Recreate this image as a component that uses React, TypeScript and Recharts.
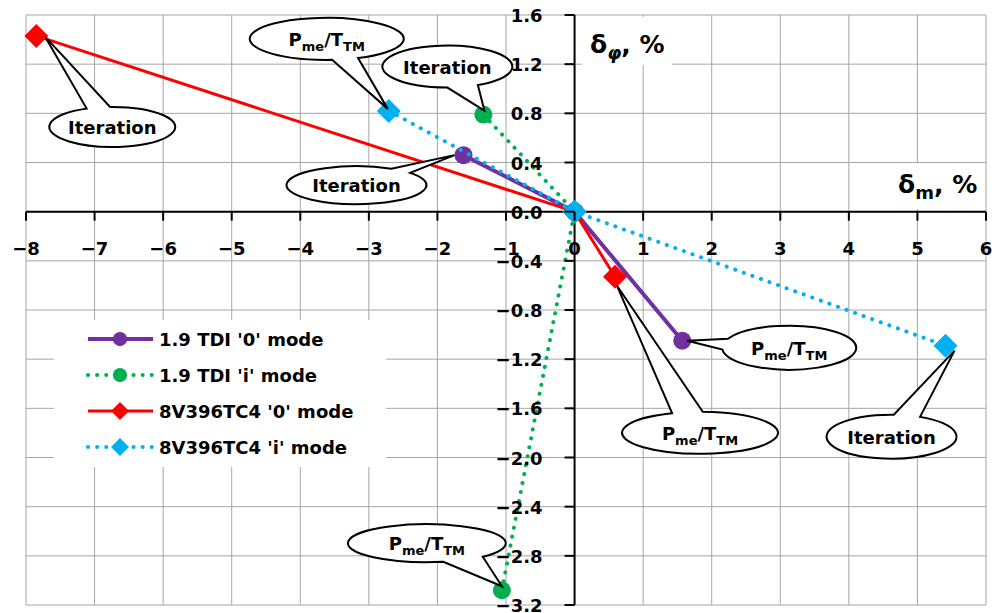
import { ScatterChart, Scatter, XAxis, YAxis, CartesianGrid, ReferenceLine, ReferenceDot, Legend } from 'recharts';

// 1.9 TDI '0' mode
const tdi0X = [-1.62, 0, 1.57];
const tdi0Y = [0.46, 0, -1.05];
// 1.9 TDI 'i' mode
const tdiIX = [-1.33, 0, -1.06];
const tdiIY = [0.79, 0, -3.08];
// 8V396TC4 '0' mode
const v0X = [-7.85, 0, 0.59];
const v0Y = [1.43, 0, -0.53];
// 8V396TC4 'i' mode
const vIX = [-2.71, 0, 5.41];
const vIY = [0.82, 0, -1.09];

const xTicks = [-8, -7, -6, -5, -4, -3, -2, -1, 0, 1, 2, 3, 4, 5, 6];
const yTicks = [1.6, 1.2, 0.8, 0.4, 0, -0.4, -0.8, -1.2, -1.6, -2.0, -2.4, -2.8, -3.2];

const seriesNames = ["1.9 TDI '0' mode", "1.9 TDI 'i' mode", "8V396TC4 '0' mode", "8V396TC4 'i' mode"];

// callouts: which series / which point, and the text
const calloutSeries = [2, 3, 1, 0, 0, 2, 3, 1];
const calloutPoint = [0, 0, 0, 0, 2, 2, 2, 2];
const calloutText = ['Iteration', 'P', 'Iteration', 'Iteration', 'P', 'P', 'Iteration', 'P'];

const toPoints = (xs: number[], ys: number[]) => xs.map((x, i) => ({ x, y: ys[i] }));
const seriesData = [toPoints(tdi0X, tdi0Y), toPoints(tdiIX, tdiIY), toPoints(v0X, v0Y), toPoints(vIX, vIY)];

// styles
const FONT = '"DejaVu Sans", sans-serif';
const W = 998;
const H = 613;
const M = { top: 15, right: 12, bottom: 7, left: 25 };
const X_DOM = [-8, 6];
const Y_DOM = [-3.2, 1.6];
const PL = M.left + 1;
const PB = M.bottom + 1;
const OX = PL + ((W - PL - M.right) * (0 - X_DOM[0])) / (X_DOM[1] - X_DOM[0]);
const OY = M.top + ((H - M.top - PB) * (Y_DOM[1] - 0)) / (Y_DOM[1] - Y_DOM[0]);

const seriesStyle = [
  { color: '#7030A0', marker: 'circle', width: 4, dash: undefined },
  { color: '#00B050', marker: 'circle', width: 4, dash: '0.1 9' },
  { color: '#FF0000', marker: 'diamond', width: 3, dash: undefined },
  { color: '#00B0F0', marker: 'diamond', width: 4, dash: '0.1 9' },
];

// ellipse offset from point, radii, wedge tip offset, wedge base angles
const calloutGeom = [
  { dx: 76, dy: 91, rx: 63, ry: 20, tx: 9, ty: 1, a1: -114, a2: -92 },
  { dx: -62, dy: -72, rx: 77, ry: 21, tx: -1, ty: -2, a1: 66, a2: 86 },
  { dx: -36, dy: -48, rx: 65, ry: 21, tx: 1, ty: -4, a1: 62, a2: 90 },
  { dx: -107, dy: 30, rx: 70, ry: 19, tx: -9, ty: 0, a1: -60, a2: -40 },
  { dx: 107, dy: 7, rx: 67, ry: 22, tx: 5, ty: 0, a1: 175, a2: 204 },
  { dx: 85, dy: 156, rx: 78, ry: 21, tx: 2, ty: 9, a1: -111, a2: -88 },
  { dx: -54, dy: 91, rx: 65, ry: 22, tx: 9, ty: 5, a1: -88, a2: -64 },
  { dx: -75, dy: -47, rx: 79, ry: 19, tx: 0, ty: -4, a1: 45, a2: 78 },
];

const fmtX = (v: number) => (v < 0 ? '\u2212' + Math.abs(v) : String(v));
const fmtY = (v: number) => (v < 0 ? '\u2212' + Math.abs(v).toFixed(1) : v.toFixed(1));

function marker(cx: number, cy: number, kind: string, color: string, s: number) {
  if (kind === 'diamond') {
    return <path d={`M${cx},${cy - s} L${cx + s},${cy} L${cx},${cy + s} L${cx - s},${cy} Z`} fill={color} />;
  }
  return <circle cx={cx} cy={cy} r={s * 0.75} fill={color} />;
}

const renderXTick = (props: any) => {
  const { x, payload } = props;
  return (
    <g>
      <line x1={x} y1={OY} x2={x} y2={OY + 9} stroke="#000" strokeWidth={2} />
      <text x={x} y={OY + 43} textAnchor="middle" fontFamily={FONT} fontWeight="bold" fontSize={18} fill="#000">
        {fmtX(payload.value)}
      </text>
    </g>
  );
};

const renderYTick = (props: any) => {
  const { y, payload } = props;
  return (
    <g>
      <line x1={OX - 10} y1={y} x2={OX} y2={y} stroke="#000" strokeWidth={2} />
      <text x={OX - 32} y={y + 7} textAnchor="end" fontFamily={FONT} fontWeight="bold" fontSize={18} fill="#000">
        {fmtY(payload.value)}
      </text>
    </g>
  );
};

function calloutShape(i: number) {
  return (props: any) => {
    const { cx, cy } = props;
    const g = calloutGeom[i];
    const ex = cx + g.dx;
    const ey = cy + g.dy;
    const pt = (a: number) => [ex + g.rx * Math.cos((a * Math.PI) / 180), ey + g.ry * Math.sin((a * Math.PI) / 180)];
    const [x1, y1] = pt(g.a2);
    const [x2, y2] = pt(g.a1);
    const d = `M${x1},${y1} A${g.rx},${g.ry} 0 1 1 ${x2},${y2} L${cx + g.tx},${cy + g.ty} Z`;
    const isP = calloutText[i] === 'P';
    return (
      <g>
        <path d={d} fill="#fff" stroke="#000" strokeWidth={2} strokeLinejoin="miter" />
        <text x={ex} y={ey + 7} textAnchor="middle" fontFamily={FONT} fontWeight="bold" fontSize={18} fill="#000">
          {isP ? (
            <>
              <tspan>P</tspan>
              <tspan fontSize={13} dy={5}>me</tspan>
              <tspan dy={-5}>/T</tspan>
              <tspan fontSize={13} dy={5}>TM</tspan>
            </>
          ) : (
            calloutText[i]
          )}
        </text>
      </g>
    );
  };
}

const renderLegend = () => (
  <svg width={332} height={147} style={{ display: 'block', background: '#fff' }}>
    {seriesNames.map((name, i) => {
      const st = seriesStyle[i];
      const y = 19 + i * 36;
      return (
        <g key={name}>
          <line x1={34} y1={y} x2={99} y2={y} stroke={st.color} strokeWidth={st.width} strokeDasharray={st.dash} strokeLinecap={st.dash ? 'round' : 'butt'} />
          {marker(66, y, st.marker, st.color, st.marker === 'diamond' ? 9 : 9.5)}
          <text x={105} y={y + 7} fontFamily={FONT} fontWeight="bold" fontSize={18} fill="#000">
            {name}
          </text>
        </g>
      );
    })}
  </svg>
);

export default function App() {
  return (
    <div style={{ position: 'absolute', left: 0, top: 0, width: W, height: H, background: '#fff' }}>
      <ScatterChart width={W} height={H} margin={M}>
        <CartesianGrid stroke="#a6a6a6" strokeWidth={1} />
        <XAxis type="number" dataKey="x" domain={X_DOM} ticks={xTicks} interval={0} height={1} axisLine={false} tickLine={false} tick={renderXTick} />
        <YAxis type="number" dataKey="y" domain={Y_DOM} ticks={yTicks} interval={0} width={1} axisLine={false} tickLine={false} tick={renderYTick} />
        <ReferenceLine x={0} stroke="#000" strokeWidth={2} />
        <ReferenceLine y={0} stroke="#000" strokeWidth={2} />
        {seriesData.map((data, i) => {
          const st = seriesStyle[i];
          return (
            <Scatter
              key={seriesNames[i]}
              name={seriesNames[i]}
              data={data}
              fill={st.color}
              isAnimationActive={false}
              lineType="joint"
              line={{ stroke: st.color, strokeWidth: st.width, strokeDasharray: st.dash, strokeLinecap: st.dash ? 'round' : 'butt' }}
              shape={(p: any) => marker(p.cx, p.cy, st.marker, st.color, 12)}
            />
          );
        })}
        {calloutSeries.map((s, i) => (
          <ReferenceDot
            key={i}
            x={seriesData[s][calloutPoint[i]].x}
            y={seriesData[s][calloutPoint[i]].y}
            r={1}
            ifOverflow="visible"
            zIndex={2000}
            shape={calloutShape(i)}
          />
        ))}
        <Legend layout="vertical" align="center" verticalAlign="middle" content={renderLegend} wrapperStyle={{ left: 54, top: 320, width: 332, height: 147 }} />
      </ScatterChart>
      <svg width={W} height={H} style={{ position: 'absolute', left: 0, top: 0, pointerEvents: 'none' }}>
        <rect x={582} y={17} width={90} height={48} fill="#fff" />
        <text x={590} y={53} fontFamily={FONT} fontWeight="bold" fontSize={25} fill="#000">
          <tspan>δ</tspan>
          <tspan fontSize={18} fontStyle="italic" dy={6}>φ</tspan>
          <tspan dy={-6}>, %</tspan>
        </text>
        <rect x={890} y={163} width={95} height={46} fill="#fff" />
        <text x={898} y={193} fontFamily={FONT} fontWeight="bold" fontSize={25} fill="#000">
          <tspan>δ</tspan>
          <tspan fontSize={18} dy={6}>m</tspan>
          <tspan dy={-6}>, %</tspan>
        </text>
      </svg>
    </div>
  );
}
